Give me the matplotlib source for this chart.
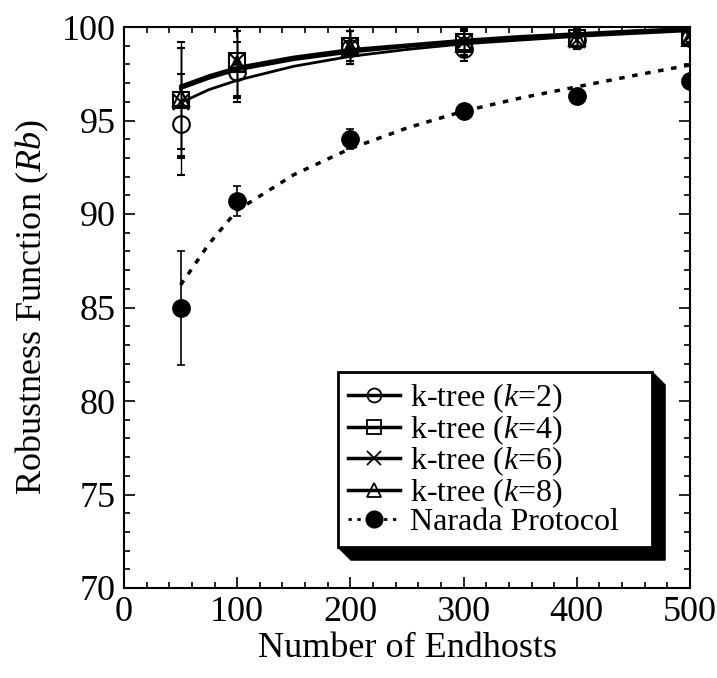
import numpy as np
import matplotlib
matplotlib.use('Agg')
import matplotlib.pyplot as plt
from matplotlib.lines import Line2D
from matplotlib.patches import Polygon
from matplotlib.transforms import IdentityTransform
from matplotlib.ticker import MultipleLocator

plt.rcParams['font.family'] = ['Liberation Serif', 'DejaVu Serif']
plt.rcParams['mathtext.fontset'] = 'custom'
plt.rcParams['mathtext.rm'] = 'Liberation Serif'
plt.rcParams['mathtext.it'] = 'Liberation Serif:italic'

# measured points
hosts = [50, 100, 200, 300, 400, 500]
k2 = [94.8, 97.6, 98.9, 98.8, 99.3, 99.4]
k4 = [96.1, 98.2, 99.0, 99.2, 99.4, 99.5]
k6 = [96.0, 98.2, 99.0, 99.2, 99.3, 99.5]
k8 = [96.2, 98.0, 98.9, 99.1, 99.4, 99.4]
narada = [84.95, 90.7, 94.0, 95.5, 96.3, 97.1]

k2_err = [2.7, 1.6, 0.9, 0.6, 0.5, 0.3]
k4_err = [3.1, 1.9, 0.8, 0.7, 0.5, 0.3]
k6_err = [2.9, 2.0, 0.8, 0.7, 0.5, 0.3]
k8_err = [2.7, 1.8, 0.9, 0.7, 0.5, 0.3]
narada_err = [3.05, 0.8, 0.55, 0.3, 0.2, 0.2]

# fitted curves
fit_x = [50, 75, 100, 150, 200, 250, 300, 350, 400, 450, 500]
k2_fit = [95.95, 96.65, 97.15, 97.9, 98.43, 98.8, 99.1, 99.3, 99.5, 99.65, 99.8]
k4_fit = [96.75, 97.3, 97.75, 98.3, 98.7, 99.0, 99.25, 99.45, 99.6, 99.78, 99.9]
k6_fit = [96.85, 97.4, 97.85, 98.4, 98.8, 99.05, 99.3, 99.5, 99.65, 99.8, 99.92]
k8_fit = [96.7, 97.25, 97.7, 98.25, 98.65, 98.95, 99.2, 99.4, 99.55, 99.74, 99.88]
narada_fit = [86.2, 88.4, 90.2, 92.1, 93.5, 94.6, 95.5, 96.2, 96.8, 97.4, 97.97]

labels = ['k-tree ($k$=2)', 'k-tree ($k$=4)', 'k-tree ($k$=6)', 'k-tree ($k$=8)', 'Narada Protocol']

fig = plt.figure(figsize=(7.17, 6.78), dpi=100, facecolor='w')
ax = fig.add_axes([124 / 717, 1 - 588 / 678, 566 / 717, 561 / 678])

for fx in [k2_fit, k4_fit, k6_fit, k8_fit]:
    ax.plot(fit_x, fx, color='k', linewidth=2, zorder=2)
ax.plot(fit_x, narada_fit, color='k', linewidth=2.5, linestyle=(0, (1.6, 2.2)), zorder=2)

markers = ['o', 's', 'x', '^']
for vals, err, m in zip([k2, k4, k6, k8], [k2_err, k4_err, k6_err, k8_err], markers):
    ax.errorbar(hosts, vals, yerr=err, fmt=m, color='k', markersize=12, mfc='none',
                mew=1.5, elinewidth=1, capsize=3, capthick=1, zorder=3)
ax.errorbar(hosts, narada, yerr=narada_err, fmt='o', color='k', markersize=12.5,
            elinewidth=1.2, capsize=3, capthick=1.2, zorder=3)

ax.set_xlim(0, 500)
ax.set_ylim(70, 100)
ax.xaxis.set_major_locator(MultipleLocator(100))
ax.xaxis.set_minor_locator(MultipleLocator(20))
ax.yaxis.set_major_locator(MultipleLocator(5))
ax.yaxis.set_minor_locator(MultipleLocator(1))
ax.tick_params(which='both', direction='in', top=True, right=True, width=1.2)
ax.tick_params(which='major', length=8, labelsize=26, pad=6)
ax.tick_params(which='minor', length=4)
for s in ax.spines.values():
    s.set_linewidth(1.5)
ax.set_xlabel('Number of Endhosts', fontsize=26, labelpad=2)
ax.set_ylabel('Robustness Function ($Rb$)', fontsize=26, labelpad=8)

handles = [Line2D([], [], color='k', linewidth=2.5, marker=m, markersize=10, mfc='none', mew=1.3)
           for m in markers]
handles.append(Line2D([], [], color='k', linewidth=2, linestyle=(0, (1.2, 2.0)), marker='o',
                      markersize=12))
leg = ax.legend(handles, labels, loc='lower left', bbox_to_anchor=(0.378, 0.073, 0.555, 0.31),
                mode='expand', fontsize=23, frameon=True, fancybox=False, edgecolor='k',
                framealpha=1, handlelength=1.65, handletextpad=0.3, labelspacing=-0.06,
                borderpad=0.3, borderaxespad=0)
leg.get_frame().set_linewidth(2)
leg.set_zorder(5)

fig.canvas.draw()
bb = leg.get_window_extent()
d = 13
shadow = Polygon([(bb.x1, bb.y1), (bb.x1 + d, bb.y1 - d), (bb.x1 + d, bb.y0 - d),
                  (bb.x0 + d, bb.y0 - d), (bb.x0, bb.y0), (bb.x1, bb.y0)],
                 closed=True, facecolor='k', edgecolor='k', transform=IdentityTransform(),
                 clip_on=False, zorder=4.5)
ax.add_patch(shadow)

fig.savefig('out.png', dpi=100)
